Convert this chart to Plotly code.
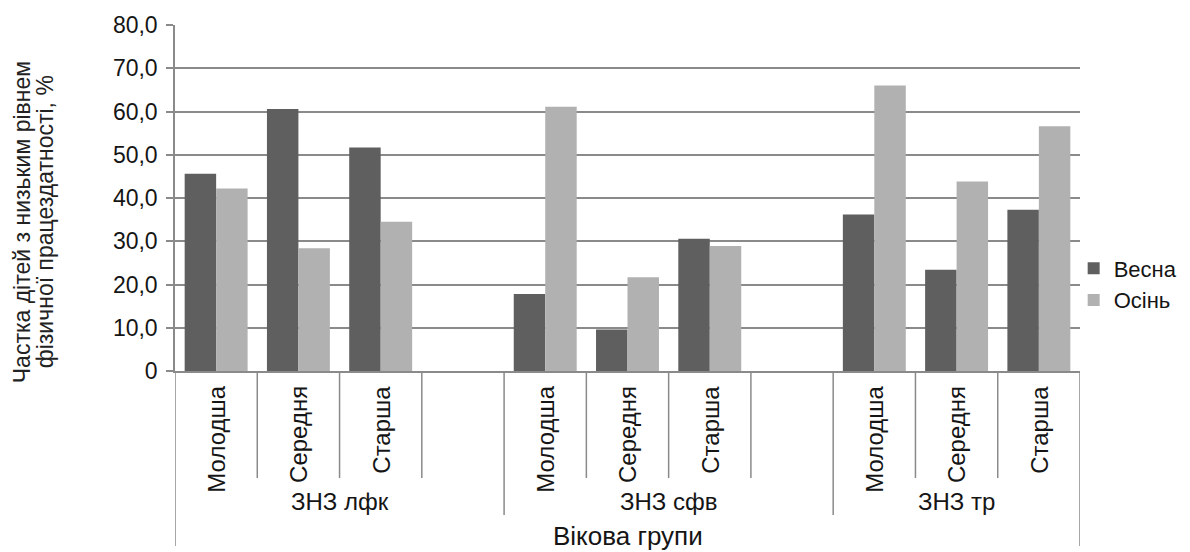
import plotly.graph_objects as go

# ---- data ----
groups = ["ЗНЗ лфк", "ЗНЗ сфв", "ЗНЗ тр"]
ages = ["Молодша", "Середня", "Старша"]
spring = [45.6, 60.6, 51.7, 17.8, 9.6, 30.6, 36.2, 23.4, 37.3]   # Весна
autumn = [42.2, 28.4, 34.5, 61.1, 21.7, 28.9, 66.0, 43.8, 56.6]  # Осінь
y_ticks = [0, 10, 20, 30, 40, 50, 60, 70, 80]
y_ticktext = ["0", "10,0", "20,0", "30,0", "40,0", "50,0", "60,0", "70,0", "80,0"]
x_title = "Вікова групи"
y_title_lines = ["Частка дітей з низьким рівнем", "фізичної працездатності, %"]

FONT = "Liberation Sans, Arial, Helvetica, sans-serif"
GRID = "#8a8a8a"
TXT = "#151515"

W, H = 1182, 544          # page body has an 8px margin
M_L, M_R, M_T, M_B = 167, 110, 17, 181
PLOT_W = W - M_L - M_R
PLOT_H = H - M_T - M_B

# category slots: each group has 3 ages + 1 empty slot (except the last)
slots_per_group = 4
positions = []
age_index = []
for gi in range(len(groups)):
    for ai in range(len(ages)):
        positions.append(gi * slots_per_group + ai)
        age_index.append(ai)
n_slots = (len(groups) - 1) * slots_per_group + len(ages)

fig = go.Figure()
fig.add_trace(go.Bar(x=positions, y=spring, name="Весна", marker_color="#5f5f5f",
                     marker_line_width=0, legendgroup="a"))
fig.add_trace(go.Bar(x=positions, y=autumn, name="Осінь", marker_color="#b1b1b1",
                     marker_line_width=0, legendgroup="b"))

shapes = []
def vline(x, depth_px):
    shapes.append(dict(type="line", xref="x", yref="paper",
                       x0=x, x1=x, y0=0, y1=-depth_px / PLOT_H,
                       line=dict(color=GRID, width=1.5)))

for s in range(n_slots - 1):
    bnd = s + 0.5
    if (s + 1) % slots_per_group == 0:
        vline(bnd, 144)
    else:
        vline(bnd, 107)
vline(-0.5, 175)
vline(n_slots - 0.5, 175)

annotations = []
for p, ai in zip(positions, age_index):
    annotations.append(dict(x=p, y=0, xref="x", yref="y", text=ages[ai], textangle=-90,
                            showarrow=False, yanchor="top", xanchor="center", yshift=-13,
                            font=dict(family=FONT, size=24, color=TXT)))
for gi, g in enumerate(groups):
    first = gi * slots_per_group
    last = min(first + slots_per_group - 1, n_slots - 1)
    annotations.append(dict(x=(first + last) / 2, y=0, xref="x", yref="y", text=g,
                            showarrow=False, yanchor="middle", xanchor="center", yshift=-130,
                            font=dict(family=FONT, size=24, color=TXT)))
annotations.append(dict(x=(n_slots - 1) / 2, y=0, xref="x", yref="y", text=x_title,
                        showarrow=False, yanchor="middle", xanchor="center", yshift=-165,
                        font=dict(family=FONT, size=26, color=TXT)))
# y-axis title, two lines placed individually (pixel offsets from the plot's left edge)
for line_txt, px in zip(y_title_lines, [22, 45]):
    annotations.append(dict(x=(px - 175) / PLOT_W, y=0.43, xref="paper", yref="paper",
                            text=line_txt, textangle=-90, showarrow=False,
                            xanchor="center", yanchor="middle",
                            font=dict(family=FONT, size=23, color="#222")))

fig.update_layout(
    width=W, height=H,
    margin=dict(l=M_L, r=M_R, t=M_T, b=M_B, autoexpand=False),
    paper_bgcolor="white", plot_bgcolor="white",
    barmode="group", bargap=0.235, bargroupgap=0,
    font=dict(family=FONT, size=22, color=TXT),
    showlegend=True,
    legend=dict(x=0.993, y=0.25, xanchor="left", yanchor="middle",
                font=dict(family=FONT, size=22, color=TXT),
                tracegroupgap=8, traceorder="normal", bgcolor="rgba(0,0,0,0)",
                itemwidth=30),
    shapes=shapes, annotations=annotations,
)
fig.update_xaxes(range=[-0.5, n_slots - 0.5], showticklabels=False, showgrid=False,
                 zeroline=False, showline=True, linecolor=GRID, linewidth=1.5, ticks="",
                 automargin=False)
fig.update_yaxes(range=[0, 80], tickvals=y_ticks, ticktext=y_ticktext, showgrid=True,
                 gridcolor=GRID, gridwidth=1.5, zeroline=False, showline=True,
                 linecolor=GRID, linewidth=1.5, ticks="outside", ticklen=7, tickcolor=GRID,
                 tickwidth=1.5, ticklabelstandoff=4, automargin=False,
                 tickfont=dict(family=FONT, size=23, color=TXT))

fig.write_html("out.html")
